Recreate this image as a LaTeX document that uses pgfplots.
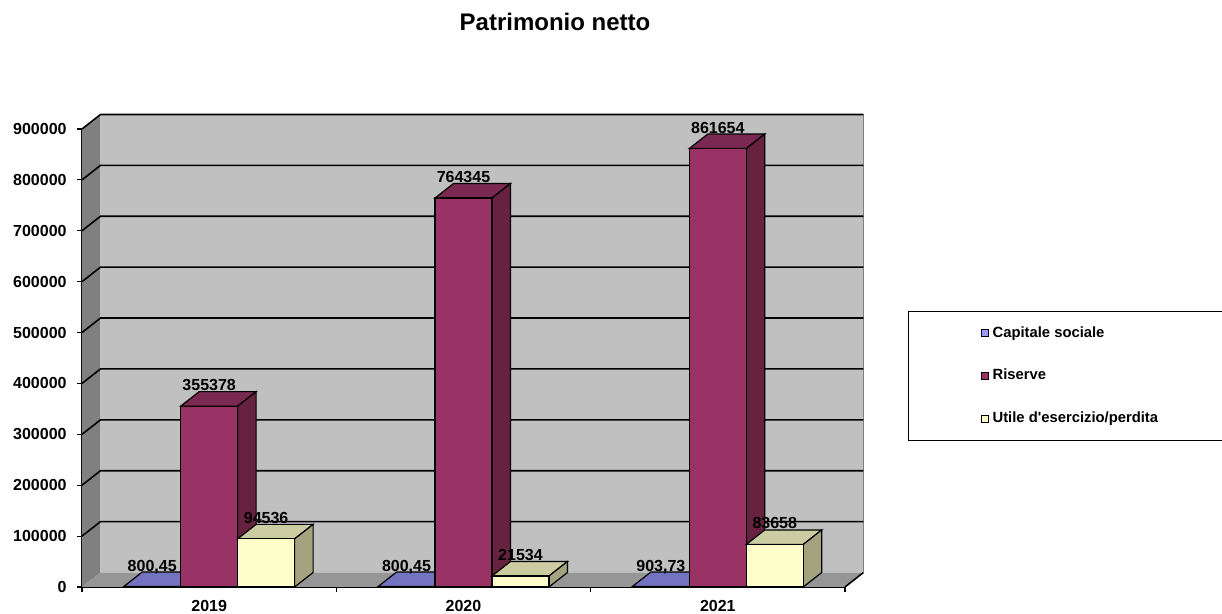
\documentclass[border=0pt]{standalone}
\usepackage{pgfplots}
\pgfplotsset{compat=1.18}
\usepackage{fontspec}
\setmainfont{Liberation Sans}[Ligatures=TeXOff]
\definecolor{bluF}{HTML}{9999FF}
\definecolor{bluT}{HTML}{7373C0}
\definecolor{bluS}{HTML}{5C5C99}
\definecolor{risF}{HTML}{993366}
\definecolor{risT}{HTML}{7A2952}
\definecolor{risS}{HTML}{66223F}
\definecolor{utiF}{HTML}{FFFFCC}
\definecolor{utiT}{HTML}{CCCCA3}
\definecolor{utiS}{HTML}{A3A37F}
\definecolor{wallC}{HTML}{C0C0C0}
\definecolor{sideC}{HTML}{808080}
\definecolor{floorC}{HTML}{969696}
\begin{document}
\begin{tikzpicture}
\begin{axis}[
  scale only axis, width=381.5pt, height=229pt,
  xmin=-0.5, xmax=2.5, ymin=0, ymax=900000,
  clip=false,
  axis x line=bottom, axis y line=left,
  axis line style={-, black, line width=0.8pt},
  xtick={0,1,2}, xticklabels={2019,2020,2021},
  minor xtick={-0.5,0.5,1.5,2.5},
  major x tick style={draw=none},
  minor x tick style={black, line width=0.6pt},
  minor tick length=2.5pt,
  ytick={0,100000,200000,300000,400000,500000,600000,700000,800000,900000},
  y tick style={black, line width=0.6pt},
  major tick length=2.5pt,
  tick align=outside,
  scaled y ticks=false,
  /pgf/number format/assume math mode=true,
  yticklabel style={/pgf/number format/fixed, /pgf/number format/1000 sep={}, font=\fontsize{8}{9}\selectfont\bfseries, anchor=east, inner sep=0pt, xshift=-5pt},
  xticklabel style={font=\fontsize{8}{9}\selectfont\bfseries, anchor=north, inner sep=0pt, yshift=-4pt},
  title={Patrimonio netto},
  title style={at={(axis description cs:0.62,1.208)}, anchor=center, font=\fontsize{12}{14}\selectfont\bfseries},
  legend style={at={(axis description cs:1.0826,0.6026)}, anchor=north west, draw=black, line width=0.5pt,
    inner xsep=30pt, inner ysep=5.5pt, row sep=10.5pt, font=\fontsize{7.4}{9}\selectfont\bfseries},
  legend cell align=left,
  legend image code/.code={\path (-6pt,0pt); \draw[#1, draw=black, line width=0.5pt] (0pt,-1.75pt) rectangle (3.5pt,1.75pt);},
  nodes near coords style={font=\fontsize{8}{9}\selectfont\bfseries, anchor=base, inner sep=0pt, yshift=7.75pt, text=black},
  face/.style={draw=black, line width=0.6pt, forget plot},
]
% walls
\addplot[fill=sideC, draw=none, forget plot] coordinates {(-0.5,0) (-0.4273,28500) (-0.4273,928500) (-0.5,900000)} -- cycle;
\addplot[fill=wallC, draw=none, forget plot] coordinates {(-0.4273,28500) (2.5727,28500) (2.5727,928500) (-0.4273,928500)} -- cycle;
\addplot[draw=gray, line width=0.6pt, forget plot] coordinates {(2.5727,28500) (2.5727,928500)};
% grid lines
\addplot[black, line width=0.8pt, forget plot] coordinates {(-0.5,100000) (-0.4273,128500) (2.5727,128500)};
\addplot[black, line width=0.8pt, forget plot] coordinates {(-0.5,200000) (-0.4273,228500) (2.5727,228500)};
\addplot[black, line width=0.8pt, forget plot] coordinates {(-0.5,300000) (-0.4273,328500) (2.5727,328500)};
\addplot[black, line width=0.8pt, forget plot] coordinates {(-0.5,400000) (-0.4273,428500) (2.5727,428500)};
\addplot[black, line width=0.8pt, forget plot] coordinates {(-0.5,500000) (-0.4273,528500) (2.5727,528500)};
\addplot[black, line width=0.8pt, forget plot] coordinates {(-0.5,600000) (-0.4273,628500) (2.5727,628500)};
\addplot[black, line width=0.8pt, forget plot] coordinates {(-0.5,700000) (-0.4273,728500) (2.5727,728500)};
\addplot[black, line width=0.8pt, forget plot] coordinates {(-0.5,800000) (-0.4273,828500) (2.5727,828500)};
\addplot[black, line width=0.8pt, forget plot] coordinates {(-0.5,900000) (-0.4273,928500) (2.5727,928500)};
% floor
\addplot[fill=floorC, draw=none, forget plot] coordinates {(-0.5,0) (2.5,0) (2.5727,28500) (-0.4273,28500)} -- cycle;
\addplot[black, line width=0.8pt, forget plot] coordinates {(2.5,0) (2.5727,28500)};
% Capitale sociale
\addplot[face, fill=bluT] coordinates {(-0.336,800.45) (-0.112,800.45) (-0.0393,29300.45) (-0.2633,29300.45)} -- cycle;
\addplot[face, fill=bluS] coordinates {(-0.112,0) (-0.0393,28500) (-0.0393,29300.45) (-0.112,800.45)} -- cycle;
\addplot[face, fill=bluT] coordinates {(0.664,800.45) (0.888,800.45) (0.9607,29300.45) (0.7367,29300.45)} -- cycle;
\addplot[face, fill=bluS] coordinates {(0.888,0) (0.9607,28500) (0.9607,29300.45) (0.888,800.45)} -- cycle;
\addplot[face, fill=bluT] coordinates {(1.664,903.73) (1.888,903.73) (1.9607,29403.73) (1.7367,29403.73)} -- cycle;
\addplot[face, fill=bluS] coordinates {(1.888,0) (1.9607,28500) (1.9607,29403.73) (1.888,903.73)} -- cycle;
\addplot[ybar, bar width=0.224, bar shift=0pt, fill=bluF, draw=black, line width=0.6pt,
  nodes near coords, point meta=explicit symbolic]
  coordinates {(-0.224,800.45) [800{,}45] (0.776,800.45) [800{,}45] (1.776,903.73) [903{,}73]};
\addlegendentry{Capitale sociale}
% Riserve
\addplot[face, fill=risT] coordinates {(-0.112,355378) (0.112,355378) (0.1847,383878) (-0.0393,383878)} -- cycle;
\addplot[face, fill=risS] coordinates {(0.112,0) (0.1847,28500) (0.1847,383878) (0.112,355378)} -- cycle;
\addplot[face, fill=risT] coordinates {(0.888,764345) (1.112,764345) (1.1847,792845) (0.9607,792845)} -- cycle;
\addplot[face, fill=risS] coordinates {(1.112,0) (1.1847,28500) (1.1847,792845) (1.112,764345)} -- cycle;
\addplot[face, fill=risT] coordinates {(1.888,861654) (2.112,861654) (2.1847,890154) (1.9607,890154)} -- cycle;
\addplot[face, fill=risS] coordinates {(2.112,0) (2.1847,28500) (2.1847,890154) (2.112,861654)} -- cycle;
\addplot[ybar, bar width=0.224, bar shift=0pt, fill=risF, draw=black, line width=0.6pt,
  nodes near coords, point meta=explicit symbolic]
  coordinates {(0,355378) [355378] (1,764345) [764345] (2,861654) [861654]};
\addlegendentry{Riserve}
% Utile
\addplot[face, fill=utiT] coordinates {(0.112,94536) (0.336,94536) (0.4087,123036) (0.1847,123036)} -- cycle;
\addplot[face, fill=utiS] coordinates {(0.336,0) (0.4087,28500) (0.4087,123036) (0.336,94536)} -- cycle;
\addplot[face, fill=utiT] coordinates {(1.112,21534) (1.336,21534) (1.4087,50034) (1.1847,50034)} -- cycle;
\addplot[face, fill=utiS] coordinates {(1.336,0) (1.4087,28500) (1.4087,50034) (1.336,21534)} -- cycle;
\addplot[face, fill=utiT] coordinates {(2.112,83658) (2.336,83658) (2.4087,112158) (2.1847,112158)} -- cycle;
\addplot[face, fill=utiS] coordinates {(2.336,0) (2.4087,28500) (2.4087,112158) (2.336,83658)} -- cycle;
\addplot[ybar, bar width=0.224, bar shift=0pt, fill=utiF, draw=black, line width=0.6pt,
  nodes near coords, point meta=explicit symbolic]
  coordinates {(0.224,94536) [94536] (1.224,21534) [21534] (2.224,83658) [83658]};
\addlegendentry{Utile d'esercizio/perdita}
\coordinate (BL) at (rel axis cs:0,0);
\end{axis}
\pgfresetboundingbox
\path[use as bounding box] (BL) ++(-41pt,-13.5pt) rectangle ++(611pt,307pt);
\end{tikzpicture}
\end{document}
